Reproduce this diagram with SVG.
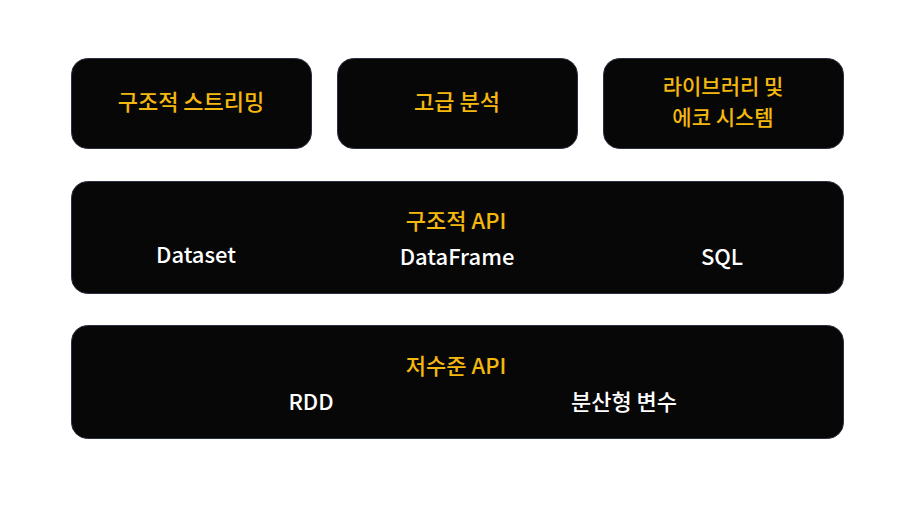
<svg xmlns="http://www.w3.org/2000/svg" width="914" height="507" viewBox="0 0 914 507">
<style>
.box{fill:#070707;stroke:#2a3040;stroke-width:1}
.t{font-family:"Noto Sans CJK KR","Noto Sans",sans-serif;font-size:22px;text-anchor:middle;dominant-baseline:central}
.y{fill:#f4b80f;font-weight:500}
.w{fill:#ffffff;font-weight:500}
.s{font-size:21px}
</style>
<rect width="914" height="507" fill="#ffffff"/>
<g id="node-streaming"><rect class="box" x="71.5" y="58.5" width="240" height="90" rx="16"/><text class="t y" x="191" y="100">구조적 스트리밍</text></g>
<g id="node-analytics"><rect class="box" x="337.5" y="58.5" width="240" height="90" rx="16"/><text class="t y" x="457" y="100">고급 분석</text></g>
<g id="node-ecosystem"><rect class="box" x="603.5" y="58.5" width="240" height="90" rx="16"/><text class="t y s" x="723" y="85">라이브러리 및</text><text class="t y s" x="723" y="115.5">에코 시스템</text></g>
<g id="node-structured"><rect class="box" x="71.5" y="181.5" width="772" height="112" rx="16"/><text class="t y" x="456" y="219">구조적 API</text><text class="t w" x="196" y="253">Dataset</text><text class="t w" x="457" y="255">DataFrame</text><text class="t w" x="722" y="255">SQL</text></g>
<g id="node-lowlevel"><rect class="box" x="71.5" y="325.5" width="772" height="113" rx="16"/><text class="t y" x="456" y="364">저수준 API</text><text class="t w" x="311" y="400">RDD</text><text class="t w" x="624" y="400">분산형 변수</text></g>
<g id="connectors"></g>
</svg>
